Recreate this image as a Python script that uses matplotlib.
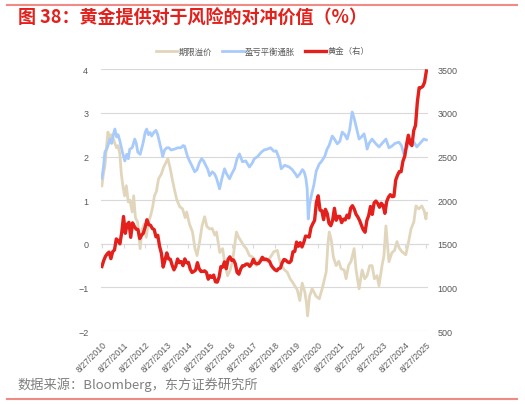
import numpy as np
import pandas as pd
import matplotlib
matplotlib.use("Agg")
import matplotlib.pyplot as plt

cjk = ['Noto Sans CJK SC', 'DejaVu Sans']

# term premium (left axis), decimal years
tp_t = [2010.65, 2010.72, 2010.79, 2010.86, 2010.93, 2011.0, 2011.08, 2011.15, 2011.25, 2011.33,
        2011.4, 2011.48, 2011.55, 2011.62, 2011.7, 2011.78, 2011.87, 2011.95, 2012.05, 2012.12,
        2012.2, 2012.3, 2012.42, 2012.5, 2012.6, 2012.7, 2012.8, 2012.9, 2013.0, 2013.08,
        2013.17, 2013.27, 2013.4, 2013.5, 2013.6, 2013.7, 2013.8, 2013.9, 2014.0, 2014.12,
        2014.25, 2014.38, 2014.5, 2014.57, 2014.7, 2014.84, 2014.95, 2015.05, 2015.17, 2015.28,
        2015.4, 2015.5, 2015.63, 2015.75, 2015.87, 2015.95, 2016.1, 2016.23, 2016.35, 2016.46,
        2016.58, 2016.69, 2016.8, 2016.87, 2016.97, 2017.1, 2017.22, 2017.33, 2017.47, 2017.6,
        2017.72, 2017.79, 2017.9, 2018.07, 2018.18, 2018.3, 2018.45, 2018.6, 2018.76, 2018.85,
        2018.94, 2019.1, 2019.22, 2019.35, 2019.45, 2019.55, 2019.68, 2019.8, 2019.91, 2020.03,
        2020.1, 2020.16, 2020.25, 2020.37, 2020.55, 2020.7, 2020.85, 2021.02, 2021.1, 2021.16,
        2021.25, 2021.35, 2021.48, 2021.6, 2021.71, 2021.85, 2021.94, 2022.05, 2022.17, 2022.31,
        2022.4, 2022.54, 2022.68, 2022.8, 2022.91, 2023.03, 2023.14, 2023.25, 2023.37, 2023.46,
        2023.6, 2023.69, 2023.78, 2023.92, 2024.06, 2024.18, 2024.29, 2024.4, 2024.52, 2024.7,
        2024.85, 2024.94, 2025.07, 2025.17, 2025.3, 2025.44, 2025.55, 2025.63, 2025.66]
tp_v = [1.33, 1.6, 1.78, 2.2, 2.56, 2.4, 2.5, 2.45, 2.3, 2.2,
        2.25, 2.06, 1.6, 1.33, 1.1, 1.33, 0.96, 1.0, 0.73, 1.1,
        0.6, 0.5, -0.11, 0.3, 0.45, 0.15, 0.5, 0.64, 0.85, 1.1,
        1.2, 1.49, 1.6, 1.75, 1.85, 1.95, 1.75, 1.49, 1.25, 1.0,
        0.85, 0.8, 0.6, 0.73, 0.45, 0.27, -0.1, -0.27, 0.05, 0.41,
        0.62, 0.4, 0.34, 0.35, 0.2, 0.27, -0.2, -0.11, -0.5, -0.73,
        -0.6, -0.4, 0.0, 0.27, 0.15, 0.05, -0.05, -0.11, -0.27, -0.3,
        -0.35, -0.5, -0.4, -0.3, -0.35, -0.41, -0.3, -0.18, -0.15, -0.35,
        -0.5, -0.6, -0.65, -0.8, -0.87, -0.95, -1.05, -1.3, -0.9, -1.1,
        -1.33, -1.65, -1.2, -1.03, -1.2, -1.26, -1.0, -0.64, 0.0, 0.27,
        0.1, -0.3, -0.5, -0.4, -0.57, -0.6, -0.8, -0.5, -0.4, -0.11,
        -0.6, -1.03, -0.6, -0.8, -0.73, -0.5, -0.5, -0.8, -0.73, -0.96,
        -0.5, -0.27, 0.41, -0.41, -0.2, -0.15, 0.05, -0.1, -0.18, -0.25,
        0.1, 0.34, 0.5, 0.87, 0.8, 0.87, 0.75, 0.57, 0.7]

# breakeven inflation (left axis)
be_t = [2010.65, 2010.72, 2010.79, 2010.9, 2011.02, 2011.1, 2011.18, 2011.25, 2011.33, 2011.4,
        2011.48, 2011.6, 2011.71, 2011.8, 2011.87, 2011.94, 2012.05, 2012.17, 2012.24, 2012.31,
        2012.42, 2012.55, 2012.65, 2012.72, 2012.8, 2012.88, 2012.95, 2013.05, 2013.15, 2013.23,
        2013.33, 2013.4, 2013.46, 2013.55, 2013.65, 2013.75, 2013.85, 2014.01, 2014.15, 2014.3,
        2014.4, 2014.47, 2014.55, 2014.61, 2014.7, 2014.8, 2014.94, 2015.05, 2015.15, 2015.26,
        2015.35, 2015.45, 2015.55, 2015.63, 2015.75, 2015.86, 2015.95, 2016.09, 2016.2, 2016.32,
        2016.42, 2016.55, 2016.65, 2016.78, 2016.9, 2017.01, 2017.15, 2017.3, 2017.47, 2017.6,
        2017.7, 2017.85, 2018.02, 2018.15, 2018.3, 2018.45, 2018.6, 2018.71, 2018.85, 2018.94,
        2019.1, 2019.31, 2019.45, 2019.6, 2019.68, 2019.8, 2019.92, 2020.0, 2020.08, 2020.14,
        2020.19, 2020.25, 2020.33, 2020.45, 2020.56, 2020.7, 2020.79, 2020.95, 2021.06, 2021.15,
        2021.3, 2021.4, 2021.53, 2021.65, 2021.76, 2021.88, 2021.99, 2022.1, 2022.22, 2022.3,
        2022.4, 2022.47, 2022.54, 2022.65, 2022.77, 2022.85, 2022.91, 2023.0, 2023.14, 2023.3,
        2023.46, 2023.6, 2023.78, 2023.92, 2024.06, 2024.2, 2024.38, 2024.5, 2024.61, 2024.75,
        2024.94, 2025.05, 2025.21, 2025.35, 2025.53, 2025.65]
be_v = [1.5, 1.75, 2.1, 2.2, 2.4, 2.3, 2.5, 2.63, 2.45, 2.5,
        2.36, 2.1, 1.9, 2.05, 1.95, 2.17, 2.2, 2.4, 2.3, 2.1,
        2.05, 2.3, 2.55, 2.63, 2.5, 2.55, 2.47, 2.55, 2.6, 2.5,
        2.3, 2.15, 2.0, 2.15, 2.2, 2.2, 2.15, 2.17, 2.2, 2.2,
        2.25, 2.24, 2.1, 2.0, 1.9, 1.8, 1.65, 1.7, 1.85, 1.95,
        1.9, 1.8, 1.7, 1.56, 1.65, 1.6, 1.5, 1.26, 1.5, 1.72,
        1.6, 1.49, 1.6, 1.72, 1.95, 2.06, 1.88, 1.9, 1.76, 1.85,
        1.95, 2.0, 2.1, 2.15, 2.17, 2.2, 2.12, 2.13, 1.95, 1.72,
        1.8, 1.76, 1.7, 1.6, 1.53, 1.6, 1.7, 1.65, 1.5, 1.26,
        0.57, 0.9, 1.1, 1.35, 1.67, 1.83, 1.88, 2.0, 2.17, 2.25,
        2.47, 2.4, 2.29, 2.35, 2.56, 2.5, 2.4, 2.6, 3.02, 2.9,
        2.7, 2.55, 2.4, 2.45, 2.52, 2.35, 2.17, 2.3, 2.4, 2.3,
        2.22, 2.3, 2.4, 2.2, 2.24, 2.3, 2.33, 2.25, 2.06, 2.2,
        2.4, 2.35, 2.22, 2.3, 2.4, 2.38]

# gold, monthly from Aug 2010 (right axis)
gold = [1240, 1307, 1357, 1386, 1405,
        1330, 1410, 1430, 1556, 1536, 1500, 1628, 1813, 1620, 1722, 1746, 1574,
        1740, 1700, 1668, 1664, 1560, 1598, 1622, 1690, 1776, 1720, 1712, 1675,
        1664, 1580, 1598, 1472, 1393, 1234, 1312, 1396, 1327, 1323, 1253, 1202,
        1244, 1326, 1284, 1296, 1250, 1327, 1282, 1287, 1210, 1172, 1183, 1199,
        1284, 1213, 1183, 1184, 1190, 1172, 1095, 1135, 1115, 1142, 1065, 1061,
        1118, 1238, 1233, 1293, 1215, 1322, 1351, 1309, 1316, 1272, 1173, 1152,
        1211, 1249, 1249, 1268, 1268, 1242, 1269, 1322, 1280, 1271, 1275, 1303,
        1345, 1318, 1325, 1315, 1299, 1251, 1224, 1202, 1191, 1215, 1222, 1282,
        1321, 1313, 1292, 1284, 1305, 1409, 1413, 1520, 1472, 1513, 1464, 1517,
        1589, 1585, 1577, 1686, 1730, 1768, 1975, 2050, 1886, 1879, 1777, 1895,
        1847, 1734, 1708, 1769, 1907, 1770, 1814, 1814, 1743, 1783, 1774, 1829,
        1797, 1909, 1937, 1897, 1838, 1807, 1766, 1711, 1660, 1633, 1768, 1824,
        1928, 1837, 1969, 1990, 1963, 1919, 1965, 1940, 1849, 1984, 2036, 2063,
        2040, 2044, 2230, 2286, 2327, 2326, 2447, 2503, 2634, 2744, 2650, 2625,
        2798, 2858, 3124, 3288, 3289, 3303, 3350, 3480]
gold_t = 2010.65 + np.arange(len(gold)) / 12.0

tick_years = list(range(2010, 2026))
tick_labels = ["8/27/%d" % y for y in tick_years]

fig = plt.figure(figsize=(5.25, 4.06), dpi=100)
ax = fig.add_axes([0.192, 0.182, 0.623, 0.645])
ax2 = ax.twinx()

ax.plot(tp_t, tp_v, color="#e1d6bb", lw=2.0, label="期限溢价")
ax.plot(be_t, be_v, color="#a8cbfb", lw=2.0, label="盈亏平衡通胀")
ax2.plot(gold_t, gold, color="#e3201b", lw=2.4, label="黄金（右）")

ax.set_ylim(-2, 4)
ax.set_yticks(range(-2, 5))
ax2.set_ylim(500, 3500)
ax2.set_yticks(range(500, 3501, 500))
ax.set_xlim(2010.6, 2025.72)

ax.grid(axis="y", color="#d9d9d9", lw=0.8)
ax.set_axisbelow(True)
for a in (ax, ax2):
    for s in ("top", "left", "right"):
        a.spines[s].set_visible(False)
ax2.spines["bottom"].set_visible(False)
ax.spines["bottom"].set_position(("data", 0))
ax.spines["bottom"].set_color("#d9d9d9")

ticks_x = [y + 238 / 365 for y in tick_years]
ax.set_xticks(ticks_x)
ax.set_xticklabels(tick_labels, rotation=45, ha="right", va="top", rotation_mode="anchor")
ax.tick_params(axis="x", length=3, color="#d9d9d9", pad=66, labelsize=6.3, labelcolor="#595959")
ax.tick_params(axis="y", length=0, pad=9, labelsize=6.5, labelcolor="#595959")
ax2.tick_params(axis="y", length=0, pad=7, labelsize=6.5, labelcolor="#595959")
for lab in ax.get_xticklabels() + ax.get_yticklabels() + ax2.get_yticklabels():
    lab.set_family("Liberation Sans")

h1, l1 = ax.get_legend_handles_labels()
h2, l2 = ax2.get_legend_handles_labels()
fig.legend(h1 + h2, l1 + l2, loc="center", bbox_to_anchor=(0.5, 0.872), ncol=3, frameon=False,
           prop={"family": cjk, "size": 6}, labelcolor="#595959", handlelength=2.6,
           handletextpad=0.1, columnspacing=1.2)

fig.text(0.034, 0.955, "图 38：黄金提供对于风险的对冲价值（%）", color="#e3201b", fontsize=13,
         fontweight="bold", family=cjk, va="center")
fig.text(0.034, 0.052, "数据来源：Bloomberg，东方证券研究所", color="#808080", fontsize=9.5,
         family=cjk, va="center")
fig.add_artist(plt.Line2D([0.013, 0.985], [0.985, 0.985], color="#f08a85", lw=1.5))
fig.add_artist(plt.Line2D([0.013, 0.985], [0.015, 0.015], color="#f08a85", lw=1.5))

fig.savefig("out.png", dpi=100)
